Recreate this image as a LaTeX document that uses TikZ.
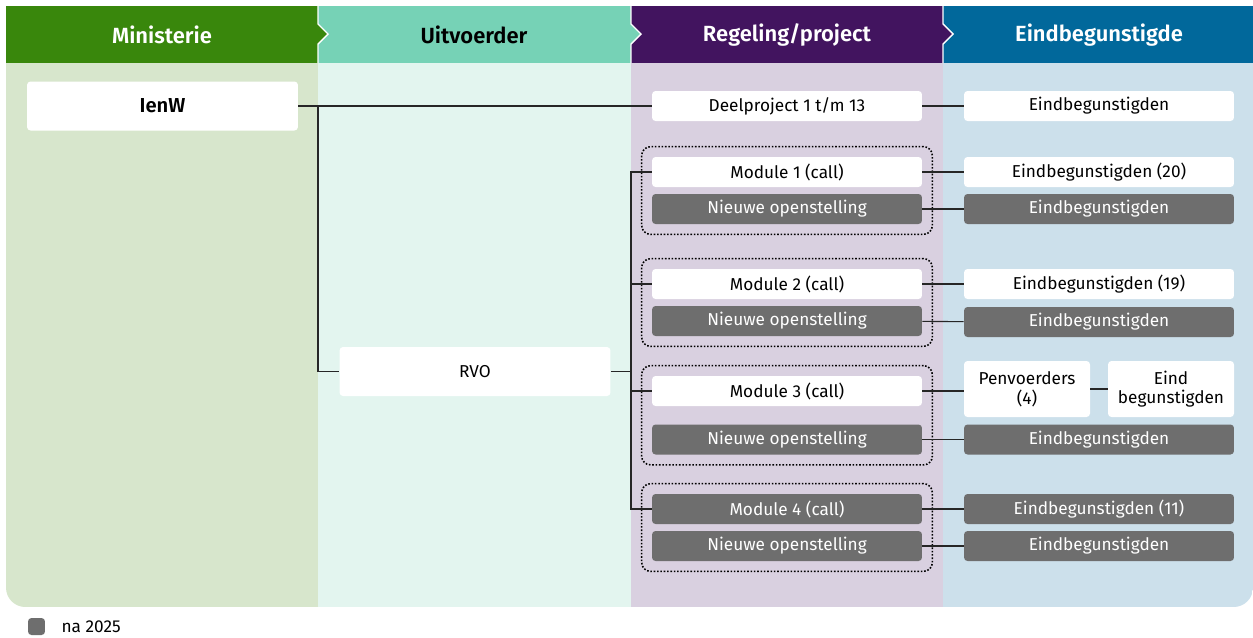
\documentclass[tikz,border=0pt]{standalone}
\usepackage{fontspec}
\setmainfont{Fira Sans}[BoldFont={Fira Sans SemiBold}]
\usepackage{xcolor}
\usetikzlibrary{positioning,fit}

\definecolor{hdgreen}{HTML}{39870C}
\definecolor{hdmint}{HTML}{76D2B6}
\definecolor{hdviolet}{HTML}{42145F}
\definecolor{hdblue}{HTML}{01689B}
\definecolor{bggreen}{HTML}{D7E6CC}
\definecolor{bgmint}{HTML}{E3F5EF}
\definecolor{bgviolet}{HTML}{D9D0E0}
\definecolor{bgblue}{HTML}{CCE0EB}
\definecolor{later}{HTML}{6E6E6E}

\begin{document}
\begin{tikzpicture}[
  x=0.02cm,y=-0.02cm,
  box/.style={fill=white,rounded corners=2pt,minimum width=5.4cm,minimum height=0.6cm,inner sep=0pt,align=center,font=\fontsize{9.8}{11.2}\selectfont},
  laterbox/.style={box,fill=later,text=white},
  bigbox/.style={box,minimum width=5.42cm,minimum height=0.98cm},
  smallbox/.style={box,minimum width=2.52cm,minimum height=1.12cm},
  grp/.style={draw,densely dotted,line width=0.9pt,rounded corners=5pt,inner sep=0.2cm},
  hd/.style={font=\bfseries\fontsize{12.5}{14}\selectfont,text=white},
  con/.style={draw=black!85,line width=0.6pt}
]
\useasboundingbox (0,0) rectangle (1253,637);

% columns
\begin{scope}
\clip[rounded corners=11pt] (6,-40) rectangle (1253,607);
\fill[bggreen] (6,63) rectangle (318,607);
\fill[bgmint] (318,63) rectangle (631,607);
\fill[bgviolet] (631,63) rectangle (943,607);
\fill[bgblue] (943,63) rectangle (1253,607);
\fill[hdgreen] (6,6) rectangle (318,63);
\fill[hdmint] (318,6) rectangle (631,63);
\fill[hdviolet] (631,6) rectangle (943,63);
\fill[hdblue] (943,6) rectangle (1253,63);
\end{scope}
\foreach \x/\c in {318/hdgreen,631/hdmint,943/hdviolet} {
  \fill[\c] (\x,24) -- (\x+10,34) -- (\x,44) -- cycle;
  \draw[white,line width=0.8pt] (\x,6) -- (\x,24) -- (\x+10,34) -- (\x,44) -- (\x,63);
}

\node[hd] (h1) at (162,35) {Ministerie};
\node[hd,text=black] (h2) at (474,35) {Uitvoerder};
\node[hd] (h3) at (787,35) {Regeling/project};
\node[hd] (h4) at (1099,35) {Eindbegunstigde};

% nodes
\node[bigbox,font=\bfseries\fontsize{11.5}{13}\selectfont] (ienw) at (162.5,106) {IenW};
\node[bigbox] (rvo) at (475,371.5) {RVO};

\node[box] (dp) at (787,106) {Deelproject 1 t/m 13};
\node[box] (e0) at (1099,106) {Eindbegunstigden};

\node[box] (m1) at (787,172) {Module 1 (call)};
\node[laterbox] (n1) at (787,209) {Nieuwe openstelling};
\node[box] (e1) at (1099,172) {Eindbegunstigden (20)};
\node[laterbox] (f1) at (1099,209) {Eindbegunstigden};

\node[box] (m2) at (787,284) {Module 2 (call)};
\node[laterbox] (n2) at (787,321) {Nieuwe openstelling};
\node[box] (e2) at (1099,284) {Eindbegunstigden (19)};
\node[laterbox] (f2) at (1099,322) {Eindbegunstigden};

\node[box] (m3) at (787,391) {Module 3 (call)};
\node[laterbox] (n3) at (787,439.5) {Nieuwe openstelling};
\node[smallbox] (pv) at (1027,389) {Penvoerders\\(4)};
\node[smallbox] (eb) at (1171,389) {Eind\\begunstigden};
\node[laterbox] (f3) at (1099,439.5) {Eindbegunstigden};

\node[laterbox] (m4) at (787,509) {Module 4 (call)};
\node[laterbox] (n4) at (787,546) {Nieuwe openstelling};
\node[laterbox] (e4) at (1099,509) {Eindbegunstigden (11)};
\node[laterbox] (f4) at (1099,546) {Eindbegunstigden};

\node[grp,fit=(m1)(n1)] (g1) {};
\node[grp,fit=(m2)(n2)] (g2) {};
\node[grp,fit=(m3)(n3)] (g3) {};
\node[grp,fit=(m4)(n4)] (g4) {};

% connectors
\coordinate (spl) at (318,0);
\coordinate (bus) at (631,0);
\draw[con] (ienw) -- (dp);
\draw[con] (dp) -- (e0);
\draw[con] (ienw.east -| spl) |- (rvo.west);
\draw[con] (rvo.east) -- (rvo.east -| bus);
\draw[con] (m1.west) -- (m1.west -| bus) -- (m4.west -| bus) -- (m4.west);
\draw[con] (m2.west) -- (m2.west -| bus);
\draw[con] (m3.west) -- (m3.west -| bus);
\draw[con] (m1) -- (e1);
\draw[con] (n1) -- (f1);
\draw[con] (m2) -- (e2);
\draw[con] (n2) -- (f2);
\draw[con] (m3.east) -- (m3.east -| pv.west);
\draw[con] (pv) -- (eb);
\draw[con] (n3) -- (f3);
\draw[con] (m4) -- (e4);
\draw[con] (n4) -- (f4);

% legend
\node[fill=later,rounded corners=2pt,minimum size=0.34cm,inner sep=0pt] (lg) at (36.5,626.5) {};
\node[right=0.2cm of lg,font=\fontsize{9.8}{11.2}\selectfont] (lgt) {na 2025};
\end{tikzpicture}
\end{document}
